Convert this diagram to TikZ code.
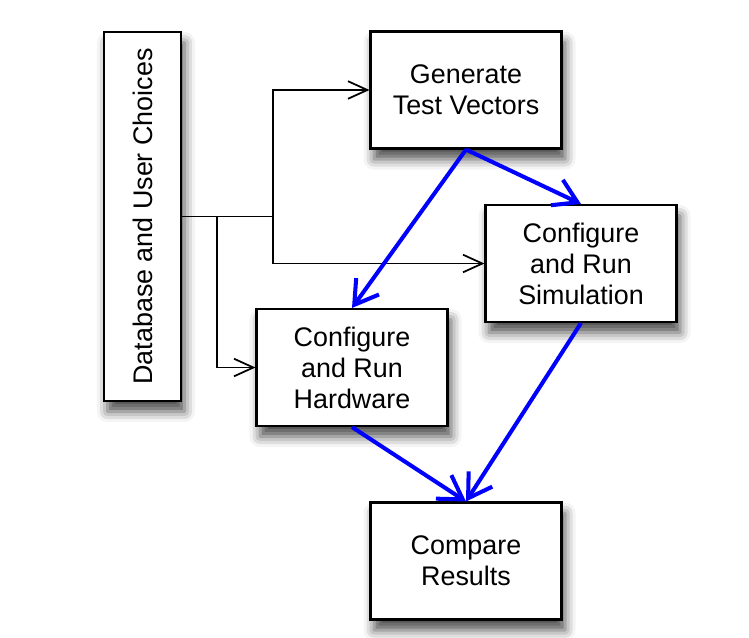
\documentclass[tikz,border=0pt]{standalone}
\usepackage{fontspec}
\setmainfont{Liberation Sans}
\usetikzlibrary{arrows.meta,shadows.blur,positioning}

\begin{document}
\begin{tikzpicture}[x=0.02cm, y=-0.02cm]
		\newcommand\boxw{3.82cm}
		\newcommand\boxh{2.34cm}
		\tikzset{
		every node/.style = {font=\fontsize{15.3}{17.6}\selectfont},
		stepbox/.style={
			draw, line width=1.2pt, fill=white, align=center,
			minimum width=\boxw, minimum height=\boxh, inner sep=2pt,
			blur shadow={shadow xshift=2pt, shadow yshift=-6pt,
				shadow blur radius=6pt, shadow opacity=70},
		},
		feed/.style={line width=1pt, -{Straight Barb[length=11pt, width=10pt]}},
		flow/.style={line width=2.3pt, blue, -{Straight Barb[length=13pt, width=16pt]}},
	}
		\useasboundingbox (0,0) rectangle (749,637);
		% input column
		\node [stepbox, minimum width=1.54cm, minimum height=7.38cm] (db) at (142.5,216.5)
			{\rotatebox{90}{Database and User Choices}};
		% steps
		\node [stepbox] (gen) at (466,90) {Generate\\Test Vectors};
		\node [stepbox] (sim) at (581,263.5) {Configure\\and Run\\Simulation};
		\node [stepbox] (hw) at (352,367.5) {Configure\\and Run\\Hardware};
		\node [stepbox, below=7.04cm of gen] (cmp) {Compare\\Results};
		% branch points
		\coordinate (j1) at (273,216.5);
		\coordinate (j2) at (217,216.5);

		\draw [line width=1pt] (db.east) -- (j1);
		\draw [feed] (j1) |- (gen.west);
		\draw [feed] (j1) |- (sim.west);
		\draw [feed] (j2) |- (hw.west);
		% data flow
		\draw [flow] (gen.south) -- (hw.north);
		\draw [flow] (gen.south) -- (sim.north);
		\draw [flow] (hw.south) -- (cmp.north);
		\draw [flow] (sim.south) -- (cmp.north);
	\end{tikzpicture}
\end{document}
